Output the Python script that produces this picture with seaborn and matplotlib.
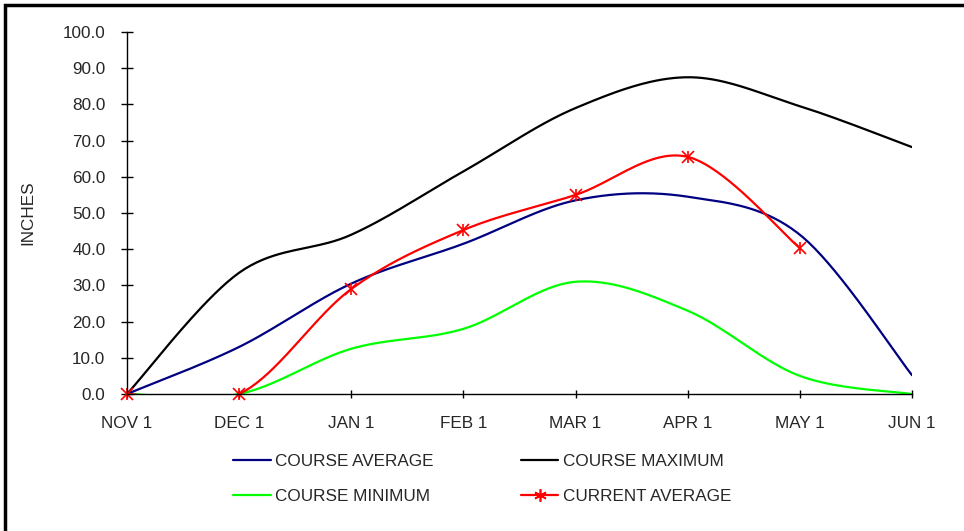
import numpy as np
import pandas as pd
import seaborn as sns
import matplotlib.pyplot as plt
from matplotlib.lines import Line2D
from matplotlib.patches import Rectangle

# chart data
months = ["NOV 1", "DEC 1", "JAN 1", "FEB 1", "MAR 1", "APR 1", "MAY 1", "JUN 1"]
course_average = [0.0, 13.0, 30.5, 41.5, 53.5, 54.5, 44.0, 5.2]
course_maximum = [0.0, 33.5, 44.0, 61.5, 79.0, 87.5, 79.5, 68.2]
course_minimum = [0.0, 0.0, 12.5, 18.0, 31.0, 23.0, 5.0, 0.0]
current_average = [0.0, 0.0, 29.0, 45.3, 55.0, 65.5, 40.3]

series_names = ["COURSE AVERAGE", "COURSE MAXIMUM", "COURSE MINIMUM", "CURRENT AVERAGE"]
series_values = [course_average, course_maximum, course_minimum, current_average]
colors = {"COURSE AVERAGE": "#000080", "COURSE MAXIMUM": "#000000",
          "COURSE MINIMUM": "#00FF00", "CURRENT AVERAGE": "#FF0000"}

sns.set_theme(style="white")
plt.rcParams['font.family'] = ['Liberation Sans', 'DejaVu Sans']
FS = 12.3


def smooth(xs, ys, n=40):
    # Excel-style smoothed line: cubic Bezier through the points (Catmull-Rom controls)
    p = np.column_stack([xs, ys]).astype(float)
    ext = np.vstack([p[0], p, p[-1]])
    out = []
    for i in range(len(p) - 1):
        p0, p1, p2, p3 = ext[i], ext[i + 1], ext[i + 2], ext[i + 3]
        c1 = p1 + (p2 - p0) / 6
        c2 = p2 - (p3 - p1) / 6
        t = np.linspace(0, 1, n)[:, None]
        seg = ((1 - t) ** 3) * p1 + 3 * ((1 - t) ** 2) * t * c1 + 3 * (1 - t) * t ** 2 * c2 + t ** 3 * p2
        out.append(seg if i == 0 else seg[1:])
    out = np.vstack(out)
    return out[:, 0], out[:, 1]


frames = []
for name, vals in zip(series_names, series_values):
    sx, sy = smooth(np.arange(len(vals)), vals)
    frames.append(pd.DataFrame({"x": sx, "y": sy, "series": name}))
df = pd.concat(frames, ignore_index=True)

fig = plt.figure(figsize=(9.64, 5.31), dpi=100)
ax = fig.add_axes([127 / 964, 137 / 531, 785 / 964, 362 / 531])

sns.lineplot(data=df, x="x", y="y", hue="series", palette=colors, sort=False,
             estimator=None, units="series", linewidth=1.6, legend=False, ax=ax)
for m in ["x", "|"]:
    ax.plot(np.arange(len(current_average)), current_average, linestyle="none",
            marker=m, markersize=8, markeredgewidth=1.2, color="#FF0000", clip_on=False, zorder=5)

ax.set_xlim(0, len(months) - 1)
ax.set_ylim(0, 100)
ax.set_xticks(range(len(months)))
ax.set_xticklabels(months)
ax.set_yticks(np.arange(0, 101, 10))
ax.set_yticklabels([f"{v:.1f}" for v in np.arange(0, 101, 10)])
ax.tick_params(axis="y", direction="inout", length=9, width=1, color="black", pad=11,
               labelsize=FS, left=True)
ax.tick_params(axis="x", direction="inout", length=6, width=1, color="black", pad=13,
               labelsize=FS, bottom=True)
for s in ["top", "right"]:
    ax.spines[s].set_visible(False)
for s in ["left", "bottom"]:
    ax.spines[s].set_color("black")
    ax.spines[s].set_linewidth(1)
    ax.spines[s].set_zorder(6)
ax.set_xlabel("")
ax.set_ylabel("INCHES", fontsize=FS)
ax.yaxis.set_label_coords(-92 / 785, 0.5)

# legend in two columns below the plot
order = ["COURSE AVERAGE", "COURSE MINIMUM", "COURSE MAXIMUM", "CURRENT AVERAGE"]
handles = []
for name in order:
    if name == "CURRENT AVERAGE":
        handles.append(Line2D([], [], color=colors[name], lw=1.6, marker=(6, 2, 0),
                              markersize=9, markeredgewidth=1.2))
    else:
        handles.append(Line2D([], [], color=colors[name], lw=1.6))
fig.legend(handles, order, ncol=2, frameon=False, fontsize=FS,
           loc="upper left", bbox_to_anchor=(218 / 964, 1 - 439 / 531),
           handlelength=2.2, handletextpad=0.25, labelspacing=1.15, columnspacing=5.1)

# outer frame (right/bottom edges run past the image)
fig.patches.append(Rectangle((5 / 964, -0.05), 1.05, 1 - 5 / 531 + 0.05,
                             transform=fig.transFigure, fill=False, lw=2.5,
                             edgecolor="black", clip_on=False))

fig.savefig("out.png", dpi=100)
